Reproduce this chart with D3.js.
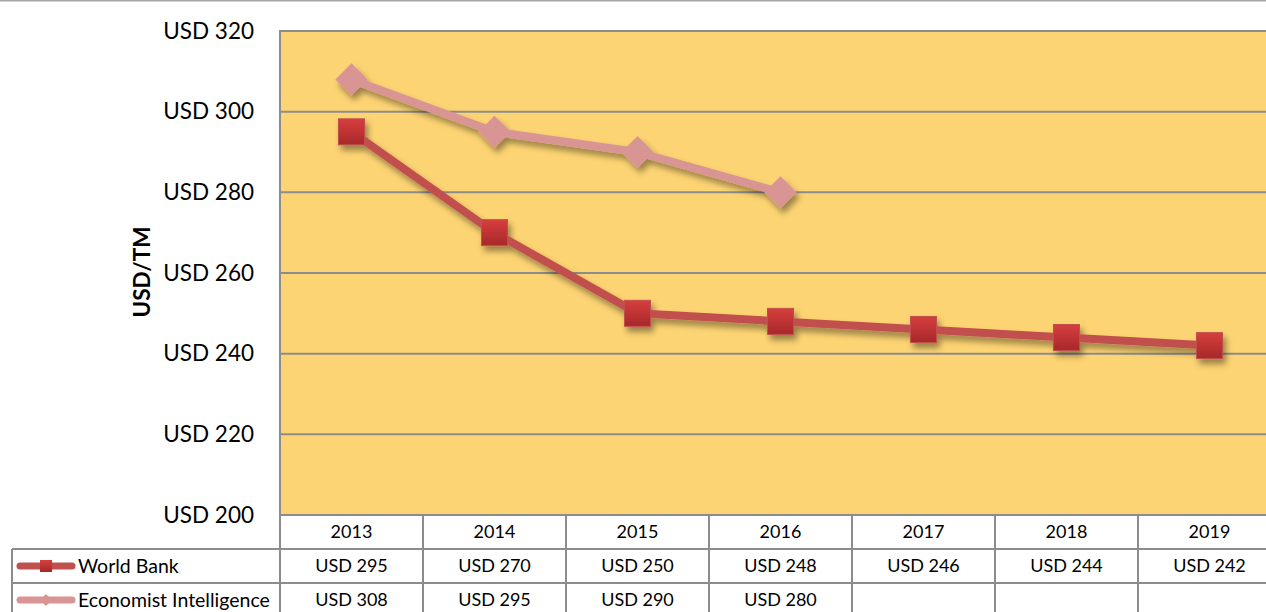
<!DOCTYPE html>
<html>
<head>
<meta charset="utf-8">
<script src="https://cdn.jsdelivr.net/npm/d3@7"></script>
<style>
  body { margin: 0; background: #fff; }
  text { font-family: Lato, "Open Sans", sans-serif; fill: #000; }
</style>
</head>
<body>
<div id="chart"></div>
<script>
const years = ["2013", "2014", "2015", "2016", "2017", "2018", "2019"];
const worldBank = [295, 270, 250, 248, 246, 244, 242];
const economist = [308, 295, 290, 280, null, null, null];
const seriesNames = ["World Bank", "Economist Intelligence"];
const yTicks = [200, 220, 240, 260, 280, 300, 320];

const W = 1266, H = 612;
const margin = {top: 31, left: 280};
const colW = 143;
const plotBottom = 515;
const rowH = 34;

const svg = d3.select("#chart").append("svg")
  .attr("width", W).attr("height", H);

const defs = svg.append("defs");
const f = defs.append("filter").attr("id", "shadow")
  .attr("x", "-20%").attr("y", "-20%").attr("width", "140%").attr("height", "160%");
f.append("feDropShadow").attr("dx", 3).attr("dy", 5).attr("stdDeviation", 3)
  .attr("flood-color", "#000").attr("flood-opacity", 0.4);

const grad = defs.append("linearGradient").attr("id", "sqGrad")
  .attr("x1", 0).attr("y1", 0).attr("x2", 0).attr("y2", 1);
grad.append("stop").attr("offset", "0%").attr("stop-color", "#D63E3E");
grad.append("stop").attr("offset", "100%").attr("stop-color", "#A8282A");

// top rule
svg.append("line").attr("x1", 0).attr("x2", W).attr("y1", 0.5).attr("y2", 0.5)
  .attr("stroke", "#a6a6a6").attr("stroke-width", 2);

const x = d3.scaleBand().domain(years)
  .range([margin.left, margin.left + colW * years.length]);
const y = d3.scaleLinear().domain([200, 320]).range([plotBottom, margin.top]);

// plot area
svg.append("rect")
  .attr("x", margin.left).attr("y", margin.top)
  .attr("width", colW * years.length).attr("height", plotBottom - margin.top)
  .attr("fill", "#FDD473").attr("stroke", "#8c8c8c").attr("stroke-width", 2);

// gridlines
svg.append("g").selectAll("line").data(yTicks.slice(1, -1)).join("line")
  .attr("x1", margin.left).attr("x2", margin.left + colW * years.length)
  .attr("y1", d => y(d)).attr("y2", d => y(d))
  .attr("stroke", "#8c8c8c").attr("stroke-width", 2);

// y axis labels
const yAxis = svg.append("g")
  .attr("transform", `translate(${254},0)`)
  .call(d3.axisLeft(y).tickValues(yTicks).tickSize(0).tickPadding(0)
    .tickFormat(d => "USD " + d));
yAxis.select(".domain").remove();
yAxis.selectAll("text").attr("font-size", 22.5).attr("font-family", "Lato, 'Open Sans', sans-serif");

svg.append("text")
  .attr("transform", `translate(150,272) rotate(-90)`)
  .attr("text-anchor", "middle")
  .attr("font-size", 22.5).attr("font-weight", "bold")
  .text("USD/TM");

// data table
const tableRight = margin.left + colW * years.length;
const tg = svg.append("g").attr("stroke", "#8c8c8c").attr("stroke-width", 2);
[plotBottom + rowH, plotBottom + rowH * 2].forEach(yy => {
  tg.append("line").attr("x1", 12).attr("x2", tableRight).attr("y1", yy).attr("y2", yy);
});
tg.append("line").attr("x1", 12).attr("x2", 12).attr("y1", plotBottom + rowH).attr("y2", H);
years.forEach((yr, i) => {
  const xx = x(yr);
  tg.append("line").attr("x1", xx).attr("x2", xx)
    .attr("y1", i === 0 ? margin.top : plotBottom).attr("y2", H);
});

svg.append("g").selectAll("text").data(years).join("text")
  .attr("x", d => x(d) + colW / 2).attr("y", plotBottom + rowH / 2 + 6)
  .attr("text-anchor", "middle").attr("font-size", 18).text(d => d);

const rows = [worldBank, economist];
rows.forEach((vals, r) => {
  svg.append("g").selectAll("text").data(years).join("text")
    .attr("x", d => x(d) + colW / 2)
    .attr("y", plotBottom + rowH * (r + 1) + rowH / 2 + 6)
    .attr("text-anchor", "middle").attr("font-size", 18)
    .text((d, i) => vals[i] == null ? "" : "USD " + vals[i]);
});

const colors = ["#C0504D", "#D99594"];
const line = d3.line()
  .defined(d => d[1] != null)
  .x(d => x(d[0]) + colW / 2)
  .y(d => y(d[1]));

function marker(g, r, cx, cy, s) {
  if (r === 0) {
    g.append("rect").attr("x", cx - s / 2).attr("y", cy - s / 2)
      .attr("width", s).attr("height", s)
      .attr("fill", "url(#sqGrad)").attr("stroke", "#C0504D").attr("stroke-width", 1);
  } else {
    g.append("path")
      .attr("d", `M${cx},${cy - s * 0.62}L${cx + s * 0.62},${cy}L${cx},${cy + s * 0.62}L${cx - s * 0.62},${cy}Z`)
      .attr("fill", colors[1]);
  }
}

rows.forEach((vals, r) => {
  const pts = years.map((yr, i) => [yr, vals[i]]);
  const g = svg.append("g").attr("filter", "url(#shadow)");
  g.append("path").datum(pts).attr("d", line)
    .attr("fill", "none").attr("stroke", colors[r]).attr("stroke-width", 8)
    .attr("stroke-linejoin", "round");
  pts.filter(p => p[1] != null).forEach(p => {
    marker(g, r, x(p[0]) + colW / 2, y(p[1]), 26);
  });
});

// legend keys in table
seriesNames.forEach((name, r) => {
  const cy = plotBottom + rowH * (r + 1) + rowH / 2;
  svg.append("line").attr("x1", 20).attr("x2", 72).attr("y1", cy).attr("y2", cy)
    .attr("stroke", colors[r]).attr("stroke-width", 7).attr("stroke-linecap", "round");
  if (r === 0) {
    svg.append("rect").attr("x", 40).attr("y", cy - 6).attr("width", 12).attr("height", 12)
      .attr("fill", "url(#sqGrad)");
  } else {
    svg.append("path").attr("d", `M46,${cy - 6}L52,${cy}L46,${cy + 6}L40,${cy}Z`).attr("fill", colors[1]);
  }
  svg.append("text").attr("x", 78).attr("y", cy + 7).attr("font-size", 19.5).text(name);
});
</script>
</body>
</html>
